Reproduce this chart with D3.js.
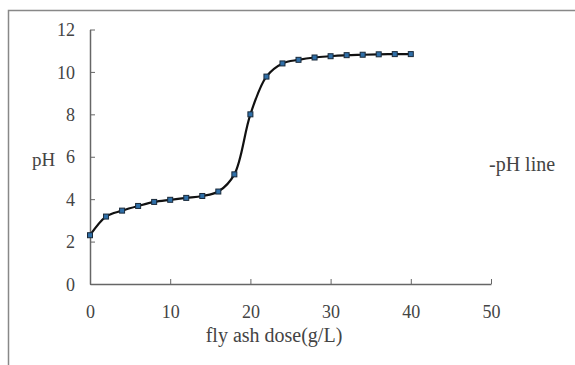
<!DOCTYPE html>
<html lang="en">
<head>
<meta charset="UTF-8">
<title>pH vs fly ash dose</title>
<script src="https://d3js.org/d3.v7.min.js"></script>
<style>
    body { margin: 0; background: #fff; }
    text { font-family: "Liberation Serif", "DejaVu Serif", serif; fill: #444; }
</style>
</head>
<body>
<svg width="575" height="365"></svg>
<script>
    // data
    const doses = [0, 2, 4, 6, 8, 10, 12, 14, 16, 18, 20, 22, 24, 26, 28, 30, 32, 34, 36, 38, 40];
    const phValues = [2.3, 3.18, 3.46, 3.68, 3.87, 3.97, 4.06, 4.15, 4.36, 5.17, 8.0, 9.78, 10.4, 10.57, 10.68, 10.74, 10.79, 10.81, 10.83, 10.84, 10.84];
    const xTicks = [0, 10, 20, 30, 40, 50];
    const yTicks = [0, 2, 4, 6, 8, 10, 12];

    const svg = d3.select("svg");
    const margin = { top: 29.5, left: 90 };
    const plotW = 401, plotH = 254.5;

    // outer frame (only top and left edges visible)
    svg.append("path")
        .attr("d", "M8.5,365 V10.5 H575")
        .attr("fill", "none")
        .attr("stroke", "#888")
        .attr("stroke-width", 1.5);

    const g = svg.append("g")
        .attr("transform", `translate(${margin.left},${margin.top})`);

    const x = d3.scaleLinear().domain([0, 50]).range([0, plotW]);
    const y = d3.scaleLinear().domain([0, 12]).range([plotH, 0]);

    // y axis, ticks pointing inward
    const yAxis = g.append("g")
        .call(d3.axisRight(y).tickValues(yTicks).tickSize(5).tickSizeOuter(0));
    yAxis.select(".domain").attr("stroke", "#666").attr("stroke-width", 1.5);
    yAxis.selectAll(".tick line").attr("stroke", "#666");
    yAxis.selectAll(".tick text")
        .attr("x", -15)
        .attr("dy", "0.34em")
        .attr("text-anchor", "end")
        .style("font-size", "18px");

    // x axis, ticks pointing up
    const xAxis = g.append("g")
        .attr("transform", `translate(0,${plotH})`)
        .call(d3.axisTop(x).tickValues(xTicks).tickSize(5).tickSizeOuter(0));
    xAxis.select(".domain").attr("stroke", "#666").attr("stroke-width", 1.5);
    xAxis.selectAll(".tick line").attr("stroke", "#666");
    xAxis.selectAll(".tick text")
        .attr("y", 34)
        .attr("dy", "0")
        .style("font-size", "18px");

    // curve
    const line = d3.line()
        .x((d, i) => x(doses[i]))
        .y(d => y(d))
        .curve(d3.curveCatmullRom.alpha(0.5));

    g.append("path")
        .datum(phValues)
        .attr("d", line)
        .attr("fill", "none")
        .attr("stroke", "#111")
        .attr("stroke-width", 2.2);

    // square markers
    g.selectAll(".pt")
        .data(phValues)
        .enter().append("rect")
        .attr("class", "pt")
        .attr("x", (d, i) => x(doses[i]) - 2.5)
        .attr("y", d => y(d) - 2.5)
        .attr("width", 5)
        .attr("height", 5)
        .attr("fill", "#2f6fa8")
        .attr("stroke", "#1a2a3a")
        .attr("stroke-width", 1);

    // labels
    svg.append("text")
        .attr("x", 274).attr("y", 342)
        .attr("text-anchor", "middle")
        .style("font-size", "20px")
        .text("fly ash dose(g/L)");

    svg.append("text")
        .attr("x", 32).attr("y", 166)
        .style("font-size", "19px")
        .text("pH");

    svg.append("text")
        .attr("x", 489).attr("y", 171)
        .style("font-size", "20px")
        .text("-pH line");
</script>
</body>
</html>
